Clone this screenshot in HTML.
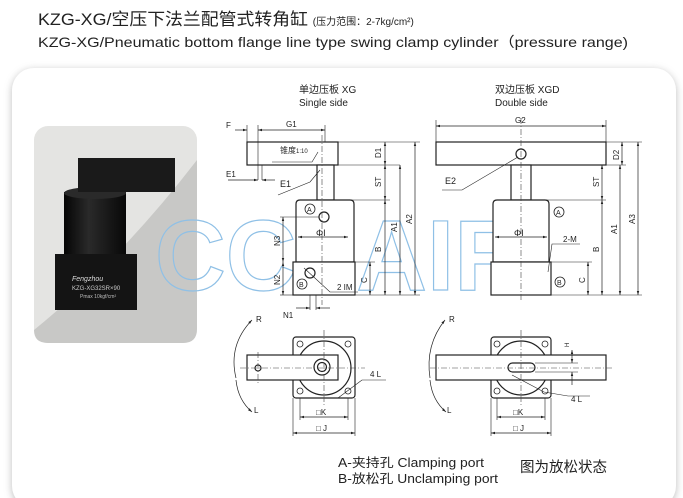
<!DOCTYPE html>
<html><head><meta charset="utf-8"><style>
html,body{margin:0;padding:0;background:#fff;}
svg{display:block;}
text{font-family:"Liberation Sans","Noto Sans CJK SC",sans-serif;}
</style></head><body>
<svg width="683" height="498" viewBox="0 0 683 498" xmlns="http://www.w3.org/2000/svg">
<defs>
<filter id="sh" x="-5%" y="-5%" width="110%" height="115%"><feGaussianBlur stdDeviation="4"/></filter>
<linearGradient id="cy" x1="0" y1="0" x2="1" y2="0"><stop offset="0" stop-color="#050505"/><stop offset="0.4" stop-color="#2a2a2a"/><stop offset="1" stop-color="#080808"/></linearGradient>
<marker id="a" viewBox="0 0 10 10" refX="10" refY="5" markerWidth="6" markerHeight="6" orient="auto-start-reverse"><path d="M0,2 L10,5 L0,8z" fill="#222"/></marker>
</defs>
<rect width="683" height="498" fill="#fff"/>
<text x="38" y="25" font-size="17" fill="#222"><tspan textLength="270" lengthAdjust="spacingAndGlyphs">KZG-XG/空压下法兰配管式转角缸</tspan> <tspan font-size="10">(压力范围：2-7kg/cm²)</tspan></text>
<text x="38" y="47" font-size="14" fill="#222" textLength="590" lengthAdjust="spacingAndGlyphs">KZG-XG/Pneumatic bottom flange line type swing clamp cylinder（pressure range)</text>
<rect x="12" y="70" width="664" height="440" rx="22" fill="#888" opacity="0.55" filter="url(#sh)"/>
<rect x="12" y="68" width="664" height="440" rx="22" fill="#fff"/>
<!-- photo -->
<rect x="34" y="126" width="163" height="217" rx="14" fill="#e4e4e2"/>
<path d="M34 330 Q120 260 197 160 L197 329 Q197 343 183 343 L48 343 Q34 343 34 330z" fill="#c8c8c6"/>
<rect x="64" y="192" width="62" height="72" fill="url(#cy)"/>
<ellipse cx="95" cy="193" rx="31" ry="6" fill="#2a2a2a"/>
<rect x="78" y="158" width="97" height="34" fill="#1a1a1a"/>
<rect x="55" y="254" width="82" height="56" fill="#141414"/>
<text x="72" y="290" font-size="6" fill="#ccc">KZG-XG32SR×90</text>
<text x="72" y="281" font-size="7" fill="#ddd" font-style="italic">Fengzhou</text>
<text x="80" y="298" font-size="5" fill="#bbb">Pmax 10kgf/cm²</text>
<!-- watermark -->
<text x="155" y="290" font-size="100" font-weight="bold" fill="none" stroke="#8fc0e6" stroke-width="1.2" textLength="370" lengthAdjust="spacingAndGlyphs">CCLAIR</text>
<g font-size="10" fill="#222">
<text x="299" y="93">单边压板 XG</text><text x="299" y="106">Single side</text>
<text x="495" y="93">双边压板 XGD</text><text x="495" y="106">Double side</text>
</g>
<g stroke="#222" stroke-width="1.2" fill="#fff">
<rect x="247" y="142" width="91" height="23"/>
<rect x="317" y="165" width="17" height="35"/>
<path d="M296 262 L296 204 Q296 200 300 200 L350 200 Q354 200 354 204 L354 262z"/>
<rect x="293" y="262" width="62" height="33"/>
<circle cx="324" cy="217" r="5"/>
<circle cx="310" cy="273" r="5"/>
<rect x="436" y="142" width="170" height="23"/>
<rect x="511" y="165" width="20" height="35"/>
<path d="M493 262 L493 204 Q493 200 497 200 L545 200 Q549 200 549 204 L549 262z"/>
<rect x="491" y="262" width="60" height="33"/>
<circle cx="521" cy="154" r="5"/>
<rect x="293" y="337" width="62" height="61" rx="3"/>
<circle cx="324" cy="368" r="27"/>
<rect x="247" y="355" width="91" height="25"/>
<circle cx="322" cy="367" r="8"/><circle cx="322" cy="367" r="4.5"/>
<circle cx="258" cy="368" r="3"/>
<rect x="491" y="337" width="60" height="61" rx="3"/>
<circle cx="521" cy="368" r="27"/>
<rect x="436" y="355" width="170" height="25"/>
<rect x="508" y="363" width="27" height="9" rx="4.5"/>
</g>
<g stroke="#222" stroke-width="0.8" fill="none">
<circle cx="300" cy="344" r="3"/><circle cx="348" cy="344" r="3"/><circle cx="300" cy="391" r="3"/><circle cx="348" cy="391" r="3"/>
<circle cx="497" cy="344" r="3"/><circle cx="545" cy="344" r="3"/><circle cx="497" cy="391" r="3"/><circle cx="545" cy="391" r="3"/>
<circle cx="310" cy="209" r="5"/><text x="307" y="212" font-size="7" stroke="none" fill="#222">A</text>
<circle cx="302" cy="284" r="5"/><text x="299" y="287" font-size="7" stroke="none" fill="#222">B</text>
<circle cx="559" cy="212" r="5"/><text x="556" y="215" font-size="7" stroke="none" fill="#222">A</text>
<circle cx="560" cy="282" r="5"/><text x="557" y="285" font-size="7" stroke="none" fill="#222">B</text>
</g>
<g stroke="#444" stroke-width="0.6" stroke-dasharray="6,2,1,2" fill="none">
<line x1="322" y1="135" x2="322" y2="305"/><line x1="521" y1="118" x2="521" y2="302"/>
<line x1="324" y1="330" x2="324" y2="405"/><line x1="240" y1="368" x2="365" y2="368"/>
<line x1="521" y1="330" x2="521" y2="405"/><line x1="430" y1="368" x2="612" y2="368"/>
<line x1="258" y1="352" x2="258" y2="385"/>
</g>
<g stroke="#222" stroke-width="0.6" fill="none">
<line x1="338" y1="142" x2="420" y2="142"/><line x1="338" y1="165" x2="400" y2="165"/><line x1="334" y1="200" x2="390" y2="200"/><line x1="355" y1="262" x2="375" y2="262"/><line x1="355" y1="295" x2="420" y2="295"/>
<line x1="247" y1="125" x2="247" y2="142"/><line x1="258" y1="125" x2="258" y2="180"/><line x1="325" y1="125" x2="325" y2="142"/><line x1="262" y1="165" x2="262" y2="180"/>
<line x1="606" y1="142" x2="642" y2="142"/><line x1="606" y1="165" x2="626" y2="165"/><line x1="531" y1="200" x2="606" y2="200"/><line x1="551" y1="262" x2="592" y2="262"/><line x1="551" y1="295" x2="642" y2="295"/>
<line x1="436" y1="120" x2="436" y2="142"/><line x1="606" y1="120" x2="606" y2="142"/>
<line x1="280" y1="217" x2="319" y2="217"/><line x1="280" y1="295" x2="293" y2="295"/>
<line x1="300" y1="398" x2="300" y2="420"/><line x1="348" y1="398" x2="348" y2="420"/><line x1="293" y1="398" x2="293" y2="436"/><line x1="355" y1="398" x2="355" y2="436"/>
<line x1="497" y1="398" x2="497" y2="420"/><line x1="545" y1="398" x2="545" y2="420"/><line x1="491" y1="398" x2="491" y2="436"/><line x1="551" y1="398" x2="551" y2="436"/>
<line x1="535" y1="363" x2="578" y2="363"/><line x1="535" y1="372" x2="578" y2="372"/>
<line x1="310" y1="295" x2="310" y2="310"/><line x1="316" y1="295" x2="316" y2="310"/>
<path d="M272 162 L312 162 L318 152"/><path d="M278 195 L310 182 L320 170"/>
<path d="M442 190 L462 190 L518 157"/>
<path d="M304 268 L330 292 L358 292"/>
<path d="M548 272 L552 244 L580 244"/>
<path d="M338 398 L362 380 L386 380"/>
<path d="M512 375 L544 392 L568 396 L590 396"/>
</g>
<g stroke="#222" stroke-width="0.7" fill="none" marker-start="url(#a)" marker-end="url(#a)">
<line x1="258" y1="130" x2="325" y2="130"/>
<line x1="436" y1="126" x2="606" y2="126"/>
<line x1="385" y1="142" x2="385" y2="165"/><line x1="385" y1="165" x2="385" y2="200"/><line x1="385" y1="200" x2="385" y2="295"/>
<line x1="370" y1="262" x2="370" y2="295"/><line x1="400" y1="165" x2="400" y2="295"/><line x1="415" y1="142" x2="415" y2="295"/>
<line x1="622" y1="142" x2="622" y2="165"/><line x1="602" y1="165" x2="602" y2="200"/><line x1="602" y1="200" x2="602" y2="295"/>
<line x1="588" y1="262" x2="588" y2="295"/><line x1="620" y1="165" x2="620" y2="295"/><line x1="638" y1="142" x2="638" y2="295"/>
<line x1="283" y1="217" x2="283" y2="262"/><line x1="283" y1="262" x2="283" y2="295"/>
<line x1="298" y1="237" x2="348" y2="237"/><line x1="495" y1="237" x2="547" y2="237"/>
<line x1="300" y1="417" x2="348" y2="417"/><line x1="293" y1="433" x2="355" y2="433"/>
<line x1="497" y1="417" x2="545" y2="417"/><line x1="491" y1="433" x2="551" y2="433"/>
<line x1="572" y1="350" x2="572" y2="363"/>
</g>
<g stroke="#222" stroke-width="0.7" fill="none">
<line x1="235" y1="130" x2="247" y2="130" marker-end="url(#a)"/>
<line x1="228" y1="180" x2="258" y2="180" marker-end="url(#a)"/><line x1="275" y1="180" x2="262" y2="180" marker-end="url(#a)"/>
<line x1="296" y1="308" x2="310" y2="308" marker-end="url(#a)"/><line x1="330" y1="308" x2="316" y2="308" marker-end="url(#a)"/>
<line x1="572" y1="385" x2="572" y2="372" marker-end="url(#a)"/>
<path d="M252 320 Q228 345 236 378" marker-start="url(#a)"/><path d="M236 380 Q238 400 252 412" marker-end="url(#a)"/>
<path d="M445 320 Q425 345 430 378" marker-start="url(#a)"/><path d="M430 380 Q432 400 446 412" marker-end="url(#a)"/>
</g>
<g font-size="8" fill="#222">
<text x="226" y="128">F</text><text x="286" y="127">G1</text>
<text x="280" y="153">锥度<tspan font-size="6">1:10</tspan></text>
<text x="226" y="177">E1</text><text x="280" y="187" font-size="9">E1</text>
<text x="445" y="184" font-size="9">E2</text>
<text x="515" y="123">G2</text>
<text x="316" y="236" font-size="9">ΦI</text><text x="514" y="236" font-size="9">ΦI</text>
<text x="337" y="290">2 IM</text><text x="563" y="242">2-M</text>
<text x="283" y="318">N1</text>
<text x="256" y="322">R</text><text x="254" y="413">L</text>
<text x="449" y="322">R</text><text x="447" y="413">L</text>
<text x="370" y="377">4 L</text><text x="571" y="402">4 L</text>
<text x="316" y="415">□K</text><text x="316" y="431">□ J</text>
<text x="513" y="415">□K</text><text x="513" y="431">□ J</text>
</g>
<g font-size="8" fill="#222">
<text transform="translate(381,158) rotate(-90)">D1</text>
<text transform="translate(381,187) rotate(-90)">ST</text>
<text transform="translate(381,252) rotate(-90)">B</text>
<text transform="translate(367,283) rotate(-90)">C</text>
<text transform="translate(397,232) rotate(-90)">A1</text>
<text transform="translate(412,224) rotate(-90)">A2</text>
<text transform="translate(280,246) rotate(-90)">N3</text>
<text transform="translate(280,285) rotate(-90)">N2</text>
<text transform="translate(619,160) rotate(-90)">D2</text>
<text transform="translate(599,187) rotate(-90)">ST</text>
<text transform="translate(599,252) rotate(-90)">B</text>
<text transform="translate(585,283) rotate(-90)">C</text>
<text transform="translate(617,234) rotate(-90)">A1</text>
<text transform="translate(635,224) rotate(-90)">A3</text>
<text transform="translate(569,347) rotate(-90)" font-size="6">H</text>
</g>
<text x="338" y="467" font-size="12.5" fill="#222" textLength="146" lengthAdjust="spacingAndGlyphs">A-夹持孔 Clamping port</text>
<text x="338" y="483" font-size="12.5" fill="#222" textLength="160" lengthAdjust="spacingAndGlyphs">B-放松孔 Unclamping port</text>
<text x="520" y="472" font-size="14.5" fill="#222">图为放松状态</text>
</svg>
</body></html>
